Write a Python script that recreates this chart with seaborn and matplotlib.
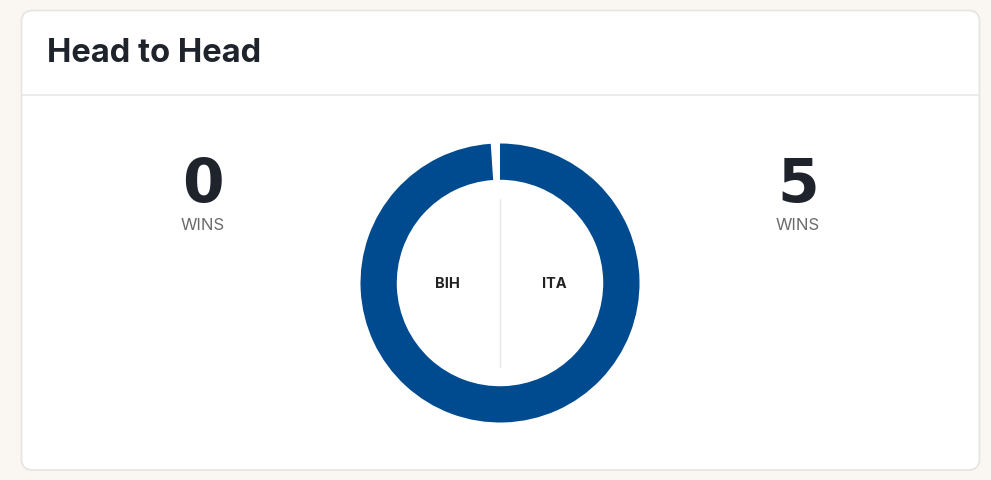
import matplotlib
matplotlib.use("Agg")
import matplotlib.pyplot as plt
import seaborn as sns
from matplotlib.patches import FancyBboxPatch

# head to head record
teams = ["BIH", "ITA"]
wins = [0, 5]
title = "Head to Head"
win_label = "WINS"

blue = "#004a8f"
ink = "#1f232b"

sns.set_theme(style="white")
plt.rcParams["font.family"] = ["Inter", "DejaVu Sans"]

fig = plt.figure(figsize=(9.91, 4.81), dpi=100)
fig.patch.set_facecolor("#faf7f3")

# background axes in pixel coordinates
bg = fig.add_axes([0, 0, 1, 1])
bg.set_xlim(0, 991)
bg.set_ylim(481, 0)
bg.axis("off")

card = FancyBboxPatch((21.5, 11.5), 958, 459.5, boxstyle="round,pad=0,rounding_size=11",
                      facecolor="white", edgecolor="#e6e4e0", linewidth=1.2)
bg.add_patch(card)
bg.plot([22, 979], [96, 96], color="#e8e8e8", lw=1.2)
bg.text(47, 54, title, fontsize=23.5, fontweight="bold", color=ink, va="center", ha="left")

# win counts either side
for x, w in zip([203, 798], wins):
    bg.text(x, 186, str(w), fontsize=43, fontweight="heavy", color=ink, ha="center",
            va="center", family="DejaVu Sans")
    bg.text(x, 226, win_label, fontsize=12, color="#6b6b6b", ha="center", va="center")

# donut
cx, cy, r = 500, 284, 139.5
ax = fig.add_axes([(cx - r) / 991, (481 - cy - r) / 481, 2 * r / 991, 2 * r / 481])
wedges, _ = ax.pie(wins[::-1], startangle=90, counterclock=False, radius=1,
                   colors=[blue, blue], wedgeprops=dict(width=0.26, linewidth=0))
wedges[0].set_theta1(wedges[0].theta1 + 3.8)
ax.set_xlim(-1, 1)
ax.set_ylim(-1, 1)
ax.axis("off")

bg.plot([500, 500], [200, 368], color="#e6e6e6", lw=1)
for x, t in zip([447, 554], teams):
    bg.text(x, 284, t, fontsize=10.5, fontweight="bold", color="#222222", ha="center", va="center")

fig.savefig("out.png", dpi=100, facecolor=fig.get_facecolor())
